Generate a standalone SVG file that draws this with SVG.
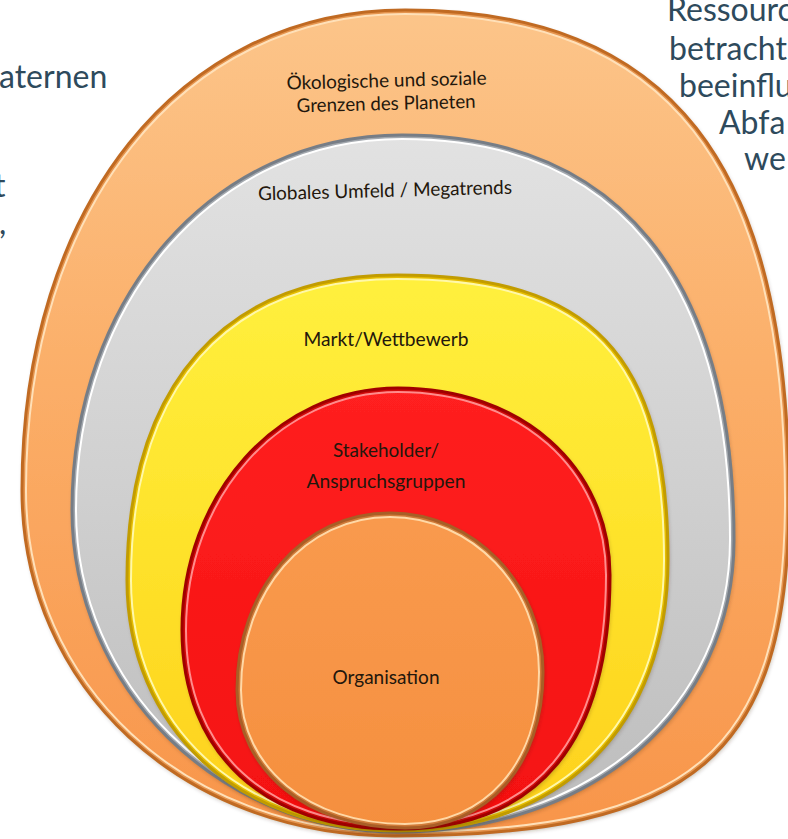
<svg xmlns="http://www.w3.org/2000/svg" width="788" height="839" viewBox="0 0 788 839">
  <defs>
    <linearGradient id="gOuter" x1="0" y1="0" x2="0" y2="1">
      <stop offset="0" stop-color="#fcc58a"/>
      <stop offset="0.45" stop-color="#fbae68"/>
      <stop offset="1" stop-color="#f8954a"/>
    </linearGradient>
    <linearGradient id="gGray" x1="0" y1="0" x2="0" y2="1">
      <stop offset="0" stop-color="#e2e2e2"/>
      <stop offset="0.5" stop-color="#d0d0d0"/>
      <stop offset="1" stop-color="#bcbcbc"/>
    </linearGradient>
    <linearGradient id="gYellow" x1="0" y1="0" x2="0" y2="1">
      <stop offset="0" stop-color="#fff03e"/>
      <stop offset="0.5" stop-color="#fee22a"/>
      <stop offset="1" stop-color="#fed01c"/>
    </linearGradient>
    <linearGradient id="gRed" x1="0" y1="0" x2="0" y2="1">
      <stop offset="0" stop-color="#ff2020"/>
      <stop offset="1" stop-color="#f41010"/>
    </linearGradient>
    <linearGradient id="gCore" x1="0" y1="0" x2="0" y2="1">
      <stop offset="0" stop-color="#f99a4e"/>
      <stop offset="1" stop-color="#f58f3e"/>
    </linearGradient>
    <filter id="shadow" x="-5%" y="-5%" width="110%" height="110%">
      <feDropShadow dx="1" dy="2" stdDeviation="2" flood-color="#3a2a1a" flood-opacity="0.35"/>
    </filter>

    <!-- ring outlines: top, right, bottom, left extremes joined by cubic quarters -->
    <path id="pOuter" d="M405,10 C670,10 789,162 789,500 C789,755.4 694.4,836 395,836 C182.4,836 22,687.2 22,490 C22,206.8 179,10 405,10 Z"/>
    <path id="pGray" d="M402,135 C617.8,135 734,276.8 734,540 C734,709.4 592.9,832 398,832 C218.7,832 72,687.1 72,510 C72,296.3 213.9,135 402,135 Z"/>
    <path id="pYellow" d="M397,275 C592.1,275 668,354.8 668,560 C668,725.3 562.7,831 398,831 C238.1,831 127,728.1 127,580 C127,384.8 224.2,275 397,275 Z"/>
    <path id="pRed" d="M398,388 C521,388 610,466.5 610,575 C610,742.6 537.9,829 398,829 C264.1,829 182,753.4 182,630 C182,494.5 277,388 398,388 Z"/>
    <path id="pCore" d="M390,513 C474.2,513 543,584.6 543,672 C543,765.6 487.8,828 405,828 C307.6,828 237,770 237,690 C237,589.1 302.8,513 390,513 Z"/>

    <clipPath id="cOuter"><use href="#pOuter"/></clipPath>
    <clipPath id="cGray"><use href="#pGray"/></clipPath>
    <clipPath id="cYellow"><use href="#pYellow"/></clipPath>
    <clipPath id="cRed"><use href="#pRed"/></clipPath>
    <clipPath id="cCore"><use href="#pCore"/></clipPath>
  </defs>
  <style>
    .side { font-family: Lato, "Open Sans", "Liberation Sans", sans-serif; font-size: 32px; fill: #2e4a5c; }
    .lbl { font-family: Lato, "Open Sans", "Liberation Sans", sans-serif; font-size: 19px; fill: #23170c; text-anchor: middle; }
    .edge { fill: none; stroke-width: 3; }
    .glow { fill: none; stroke-width: 10; }
    .band { fill: none; stroke-width: 6; }
  </style>

  <!-- slide text partly hidden behind the rings -->
  <g id="side-text">
    <text class="side" x="-1" y="88">aternen</text>
    <text class="side" x="-6" y="197">t</text>
    <text class="side" x="-1" y="234">,</text>
    <text class="side" x="667" y="21">Ressourc</text>
    <text class="side" x="669" y="60">betracht</text>
    <text class="side" x="679" y="97">beeinflu</text>
    <text class="side" x="719" y="134">Abfa</text>
    <text class="side" x="744" y="170">we</text>
  </g>

  <!-- outer ring -->
  <g id="planet">
    <use href="#pOuter" fill="url(#gOuter)" filter="url(#shadow)"/>
    <use href="#pOuter" class="glow" stroke="#ffe0b8" clip-path="url(#cOuter)"/>
    <use href="#pOuter" class="band" stroke="#e5944e" clip-path="url(#cOuter)"/>
    <use href="#pOuter" class="edge" stroke="#c06a22"/>
    <g transform="rotate(-1.5 387 97)">
      <text class="lbl" x="387" y="87" textLength="200" lengthAdjust="spacingAndGlyphs">Ökologische und soziale</text>
      <text class="lbl" x="386" y="110" textLength="179" lengthAdjust="spacingAndGlyphs">Grenzen des Planeten</text>
    </g>
  </g>

  <!-- global environment -->
  <g id="global">
    <use href="#pGray" fill="url(#gGray)" filter="url(#shadow)"/>
    <use href="#pGray" class="glow" stroke="#ffffff" clip-path="url(#cGray)"/>
    <use href="#pGray" class="band" stroke="#a3a8ae" clip-path="url(#cGray)"/>
    <use href="#pGray" class="edge" stroke="#767d86"/>
    <text class="lbl" x="385" y="197" textLength="254" lengthAdjust="spacingAndGlyphs" transform="rotate(-1.5 385 192)">Globales Umfeld / Megatrends</text>
  </g>

  <!-- market -->
  <g id="market">
    <use href="#pYellow" fill="url(#gYellow)" filter="url(#shadow)"/>
    <use href="#pYellow" class="glow" stroke="#fff8a8" clip-path="url(#cYellow)"/>
    <use href="#pYellow" class="band" stroke="#e6bd00" clip-path="url(#cYellow)"/>
    <use href="#pYellow" class="edge" stroke="#c29c00"/>
    <text class="lbl" x="386" y="346" textLength="165" lengthAdjust="spacingAndGlyphs">Markt/Wettbewerb</text>
  </g>

  <!-- stakeholders -->
  <g id="stakeholder">
    <use href="#pRed" fill="url(#gRed)" filter="url(#shadow)"/>
    <use href="#pRed" class="glow" stroke="#ff8c8c" clip-path="url(#cRed)"/>
    <use href="#pRed" class="band" stroke="#d00a0a" clip-path="url(#cRed)"/>
    <use href="#pRed" class="edge" stroke="#a00000"/>
    <text class="lbl" x="386" y="457" textLength="106" lengthAdjust="spacingAndGlyphs" fill="#3a0808">Stakeholder/</text>
    <text class="lbl" x="386" y="488" textLength="159" lengthAdjust="spacingAndGlyphs" fill="#3a0808">Anspruchsgruppen</text>
  </g>

  <!-- organisation core -->
  <g id="organisation">
    <use href="#pCore" fill="url(#gCore)" filter="url(#shadow)"/>
    <use href="#pCore" class="glow" stroke="#ffd8a6" clip-path="url(#cCore)"/>
    <use href="#pCore" class="band" stroke="#d07a38" clip-path="url(#cCore)"/>
    <use href="#pCore" class="edge" stroke="#a85e26"/>
    <text class="lbl" x="386" y="684" textLength="107" lengthAdjust="spacingAndGlyphs">Organisation</text>
  </g>
</svg>
